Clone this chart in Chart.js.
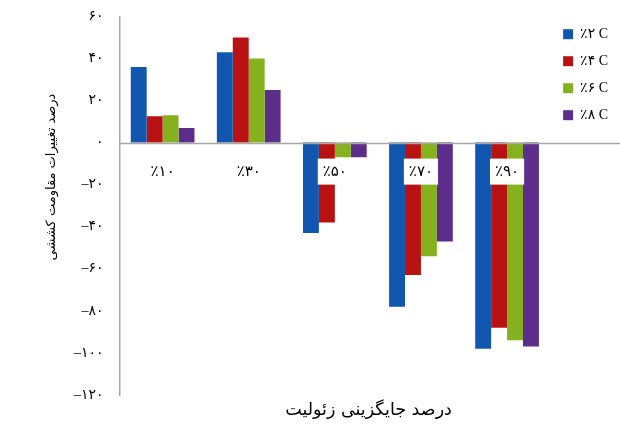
<!DOCTYPE html>
<html>
<head>
<meta charset="utf-8">
<script src="https://cdn.jsdelivr.net/npm/chart.js@4.4.1/dist/chart.umd.min.js"></script>
<style>
  html, body { margin: 0; padding: 0; background: #fff; }
  #wrap { width: 620px; height: 425px; }
</style>
</head>
<body>
<div id="wrap"><canvas id="chart"></canvas></div>
<script>
const categories = ['٪۱۰', '٪۳۰', '٪۵۰', '٪۷۰', '٪۹۰'];
const seriesNames = ['٪۲ C', '٪۴ C', '٪۶ C', '٪۸ C'];
const c2Values = [36, 43, -43, -78, -98];
const c4Values = [12.5, 50, -38, -63, -88];
const c6Values = [13, 40, -7, -54, -94];
const c8Values = [7, 25, -7, -47, -97];
const seriesColors = ['#1157b0', '#b91212', '#86b11e', '#5c2d8a'];
const faDigits = ['۰', '۱', '۲', '۳', '۴', '۵', '۶', '۷', '۸', '۹'];
const xTitle = 'درصد جایگزینی زئولیت';
const yTitle = 'درصد تغییرات مقاومت کششی';

function toFa(n) {
    const s = String(Math.abs(n)).replace(/\d/g, d => faDigits[d]);
    return n < 0 ? '–' + s : s;
}

// zero line (runs out under the legend like the original) + both axis titles
const extras = {
    id: 'extras',
    afterDatasetsDraw(chart) {
        const { ctx, chartArea, scales } = chart;
        const y0 = Math.round(scales.y.getPixelForValue(0)) + 0.5;
        ctx.save();
        ctx.strokeStyle = '#a6a6a6';
        ctx.lineWidth = 1.5;
        ctx.beginPath();
        ctx.moveTo(chartArea.left, y0);
        ctx.lineTo(chart.width, y0);
        ctx.stroke();
        ctx.restore();
    },
    afterDraw(chart) {
        const { ctx, chartArea } = chart;
        ctx.save();
        ctx.fillStyle = '#000';
        ctx.textAlign = 'center';
        ctx.textBaseline = 'middle';
        ctx.font = '17.5px "DejaVu Sans", sans-serif';
        ctx.fillText(xTitle, chartArea.left + 249, 410);
        ctx.font = '13px "DejaVu Sans", sans-serif';
        ctx.translate(52, 177);
        ctx.rotate(-Math.PI / 2);
        ctx.fillText(yTitle, 0, 0);
        ctx.restore();
    }
};

const seriesData = [c2Values, c4Values, c6Values, c8Values];

new Chart(document.getElementById('chart'), {
    type: 'bar',
    data: {
        labels: categories,
        datasets: seriesNames.map((name, i) => ({
            label: name,
            data: seriesData[i],
            backgroundColor: seriesColors[i],
            borderWidth: 0,
            categoryPercentage: 0.74,
            barPercentage: 1
        }))
    },
    options: {
        responsive: true,
        maintainAspectRatio: false,
        animation: false,
        layout: { padding: { left: 66, top: 12, right: 2, bottom: 30 } },
        plugins: {
            legend: {
                position: 'right',
                align: 'start',
                title: { display: true, text: '', font: { size: 1 }, padding: { top: 0, bottom: 1 } },
                labels: {
                    boxWidth: 10,
                    boxHeight: 10,
                    padding: 13,
                    color: '#000',
                    font: { family: '"Liberation Serif", "DejaVu Sans", serif', size: 14 }
                }
            },
            tooltip: { enabled: false }
        },
        scales: {
            x: {
                position: { y: 0 },
                grid: { display: false },
                border: { display: false },
                ticks: {
                    z: 1,
                    color: '#000',
                    padding: 12,
                    font: { family: '"Liberation Serif", "DejaVu Sans", serif', size: 15 },
                    showLabelBackdrop: true,
                    backdropColor: '#fff',
                    backdropPadding: { left: 5, right: 5, top: 4, bottom: 4 }
                }
            },
            y: {
                min: -120,
                max: 60,
                grid: { display: false },
                border: { color: '#a6a6a6', width: 1.5 },
                ticks: {
                    stepSize: 20,
                    color: '#000',
                    padding: 8,
                    font: { family: '"Liberation Serif", "DejaVu Sans", serif', size: 14 },
                    callback: v => toFa(v)
                }
            }
        }
    },
    plugins: [extras]
});
</script>
</body>
</html>
